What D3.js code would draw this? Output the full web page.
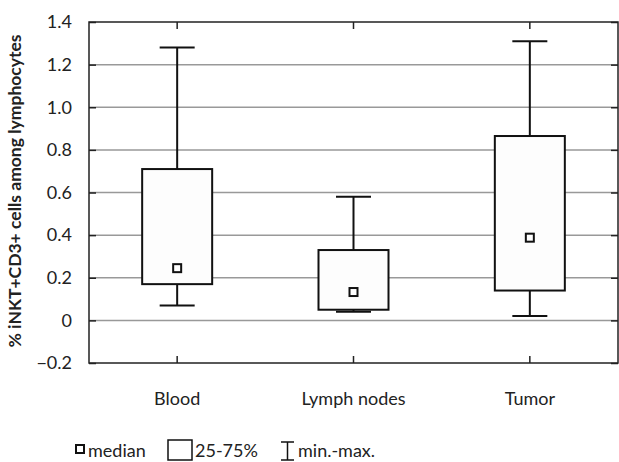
<!DOCTYPE html>
<html>
<head>
<meta charset="utf-8">
<script src="https://cdn.jsdelivr.net/npm/d3@7"></script>
<style>
  body { margin: 0; background: #fff; }
  svg text { font-family: Lato, "Open Sans", sans-serif; fill: #222; }
</style>
</head>
<body>
<div id="chart"></div>
<script>
// Données
const categories = ['Blood', 'Lymph nodes', 'Tumor'];
const mins    = [0.07, 0.04, 0.02];
const q1s     = [0.17, 0.05, 0.14];
const medians = [0.245, 0.133, 0.388];
const q3s     = [0.71, 0.33, 0.865];
const maxs    = [1.28, 0.58, 1.31];
const yTicks  = [-0.2, 0, 0.2, 0.4, 0.6, 0.8, 1.0, 1.2, 1.4];
const legendLabels = ['median', '25-75%', 'min.-max.'];

const W = 619, H = 462;
const m = { top: 22, right: 1, bottom: 99, left: 89 };
const w = W - m.left - m.right;
const h = H - m.top - m.bottom;
const FS = '18px';

const svg = d3.select('#chart').append('svg').attr('width', W).attr('height', H);
const g = svg.append('g').attr('transform', `translate(${m.left},${m.top})`);

const x = d3.scaleBand().domain(categories).range([0, w]);
const y = d3.scaleLinear().domain([-0.2, 1.4]).range([h, 0]);

// Grille horizontale
g.append('g')
  .selectAll('line')
  .data(yTicks.filter(t => t > -0.2 && t < 1.4))
  .join('line')
  .attr('x1', 0).attr('x2', w)
  .attr('y1', d => y(d)).attr('y2', d => y(d))
  .attr('stroke', '#999').attr('stroke-width', 1.5);

// Axe Y (graduations vers l'intérieur)
g.append('g')
  .call(d3.axisLeft(y).tickValues(yTicks).tickSize(-7).tickPadding(17)
    .tickFormat(d => d === 0 ? '0' : (d < 0 ? '\u2212' + Math.abs(d).toFixed(1) : d.toFixed(1))))
  .call(gg => gg.select('.domain').remove())
  .call(gg => gg.selectAll('line').attr('stroke', '#222').attr('stroke-width', 1.5))
  .call(gg => gg.selectAll('text').style('font-size', FS).attr('fill', '#222'));

g.append('g')
  .attr('transform', `translate(${w},0)`)
  .call(d3.axisRight(y).tickValues(yTicks).tickSize(-7).tickFormat(''))
  .call(gg => gg.select('.domain').remove())
  .call(gg => gg.selectAll('line').attr('stroke', '#222').attr('stroke-width', 1.5));

// Axes X haut et bas
g.append('g')
  .attr('transform', `translate(0,${h})`)
  .call(d3.axisBottom(x).tickSize(-7).tickPadding(29))
  .call(gg => gg.select('.domain').remove())
  .call(gg => gg.selectAll('line').attr('stroke', '#222').attr('stroke-width', 1.5))
  .call(gg => gg.selectAll('text').style('font-size', FS).attr('fill', '#222'));

g.append('g')
  .call(d3.axisTop(x).tickSize(-7).tickFormat(''))
  .call(gg => gg.select('.domain').remove())
  .call(gg => gg.selectAll('line').attr('stroke', '#222').attr('stroke-width', 1.5));

// Cadre
g.append('rect')
  .attr('width', w).attr('height', h)
  .attr('fill', 'none').attr('stroke', '#222').attr('stroke-width', 1.5);

// Boîtes
const boxW = 70, capW = 35, medS = 8;
const data = categories.map((c, i) => ({
  c, min: mins[i], q1: q1s[i], med: medians[i], q3: q3s[i], max: maxs[i]
}));
const cx = d => x(d.c) + x.bandwidth() / 2;

const boxes = g.append('g').selectAll('g').data(data).join('g');

boxes.append('line')
  .attr('x1', cx).attr('x2', cx)
  .attr('y1', d => y(d.max)).attr('y2', d => y(d.min))
  .attr('stroke', '#111').attr('stroke-width', 2);
boxes.append('line')
  .attr('x1', d => cx(d) - capW / 2).attr('x2', d => cx(d) + capW / 2)
  .attr('y1', d => y(d.max)).attr('y2', d => y(d.max))
  .attr('stroke', '#111').attr('stroke-width', 2);
boxes.append('line')
  .attr('x1', d => cx(d) - capW / 2).attr('x2', d => cx(d) + capW / 2)
  .attr('y1', d => y(d.min)).attr('y2', d => y(d.min))
  .attr('stroke', '#111').attr('stroke-width', 2);
boxes.append('rect')
  .attr('x', d => cx(d) - boxW / 2).attr('width', boxW)
  .attr('y', d => y(d.q3)).attr('height', d => y(d.q1) - y(d.q3))
  .attr('fill', '#fdfdfd').attr('stroke', '#111').attr('stroke-width', 2);
boxes.append('rect')
  .attr('x', d => cx(d) - medS / 2).attr('width', medS)
  .attr('y', d => y(d.med) - medS / 2).attr('height', medS)
  .attr('fill', '#fff').attr('stroke', '#111').attr('stroke-width', 2);

// Titre de l'axe Y
svg.append('text')
  .attr('transform', `translate(21,${m.top + 169}) rotate(-90)`)
  .attr('text-anchor', 'middle')
  .style('font-size', '17.5px').style('font-weight', 'bold')
  .text('% iNKT+CD3+ cells among lymphocytes');

// Légende
const leg = svg.append('g');
leg.append('rect').attr('x', 76).attr('y', 445).attr('width', 8).attr('height', 8)
  .attr('fill', '#fff').attr('stroke', '#111').attr('stroke-width', 2);
leg.append('text').attr('x', 88).attr('y', 457).style('font-size', FS).text(legendLabels[0]);
leg.append('rect').attr('x', 168).attr('y', 440).attr('width', 24).attr('height', 20)
  .attr('fill', '#fff').attr('stroke', '#111').attr('stroke-width', 1.5);
leg.append('text').attr('x', 195).attr('y', 457).style('font-size', FS).text(legendLabels[1]);
leg.append('path').attr('d', 'M281,442H294M287.5,442V460M281,460H294')
  .attr('fill', 'none').attr('stroke', '#111').attr('stroke-width', 1.5);
leg.append('text').attr('x', 298).attr('y', 457).style('font-size', FS).text(legendLabels[2]);
</script>
</body>
</html>
